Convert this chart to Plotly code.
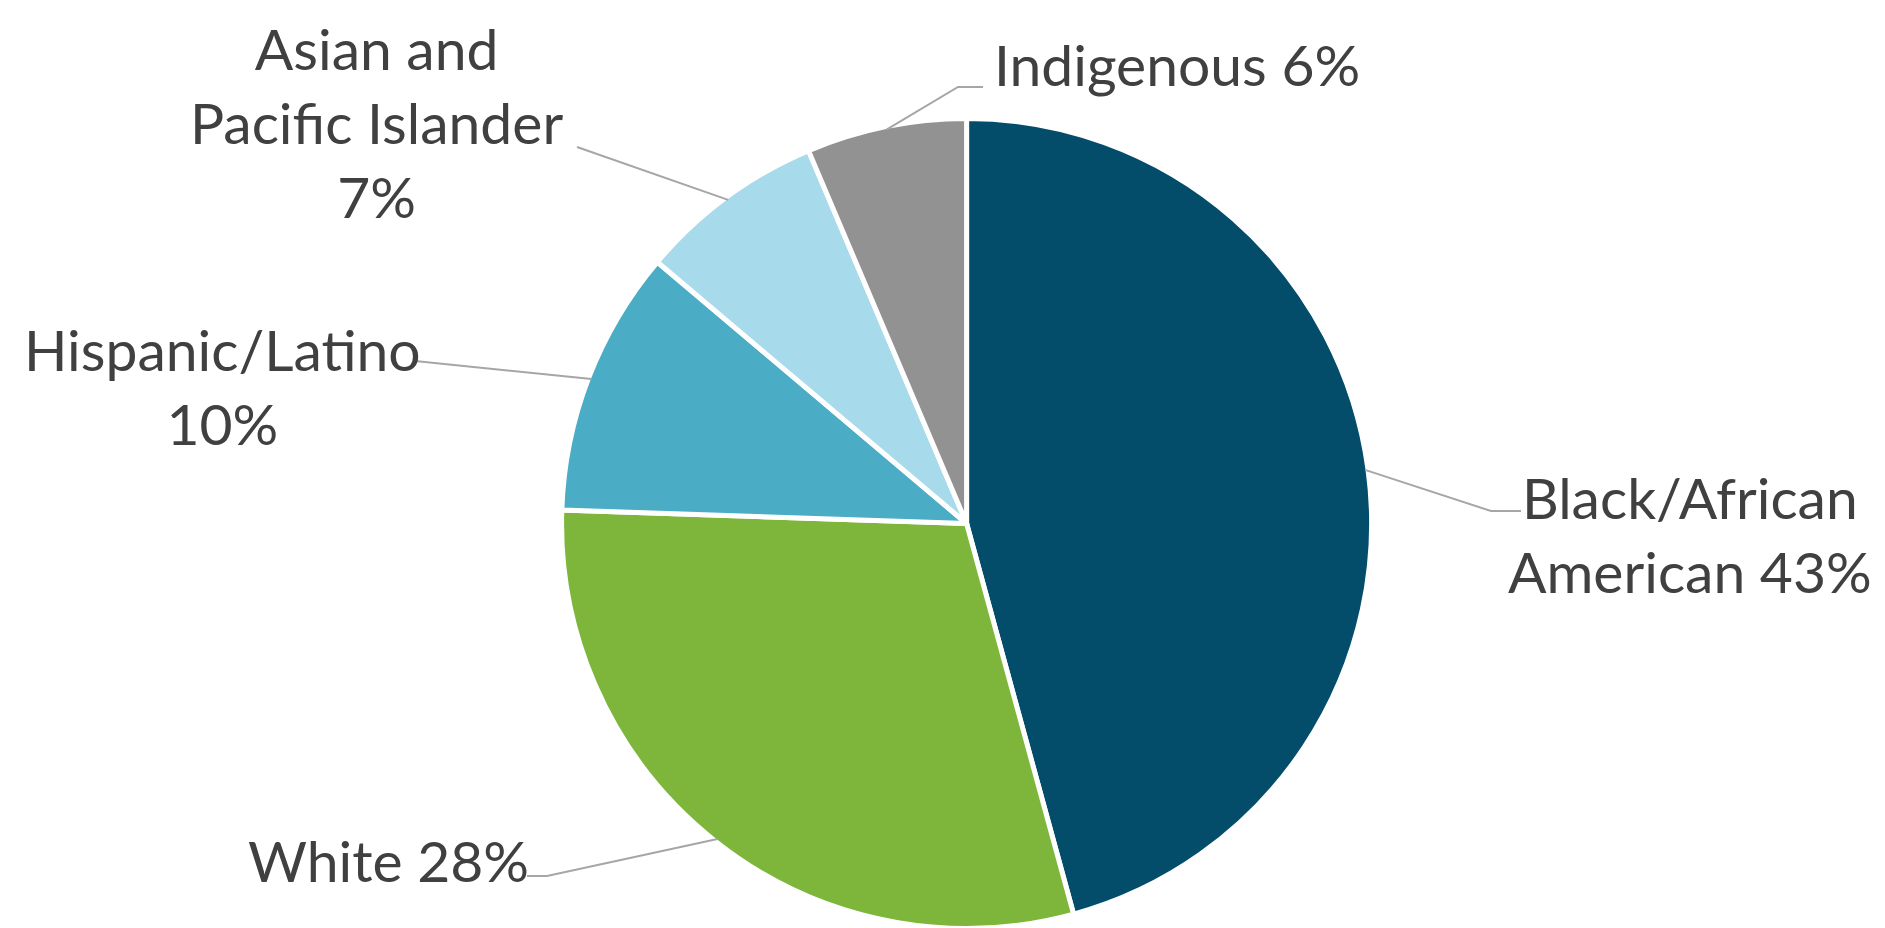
import math
import plotly.graph_objects as go

# ---- data ----
categories = ["Black/African American", "White", "Hispanic/Latino",
              "Asian and Pacific Islander", "Indigenous"]
values = [43, 28, 10, 7, 6]
label_texts = ["Black/African<br>American 43%", "White 28%", "Hispanic/Latino<br>10%",
               "Asian and<br>Pacific Islander<br>7%", "Indigenous 6%"]
colors = ["#034C6A", "#7DB63B", "#4BACC6", "#A7DAEA", "#929292"]

W, H = 1885, 928
OFF = 8  # page body margin
CX, CY, R = 966.6, 523.5, 405  # pie centre / radius in window pixels


def px(x):
    return (x - OFF) / W


def py(y):
    return 1 - (y - OFF) / H


fig = go.Figure(go.Pie(
    labels=categories, values=values, sort=False, direction="clockwise",
    rotation=0, textinfo="none", hoverinfo="skip",
    marker=dict(colors=colors, line=dict(color="white", width=5)),
    domain=dict(x=[px(CX - R), px(CX + R)], y=[py(CY + R), py(CY - R)]),
))

# label anchor positions (window pixels) and leader elbows
label_pos = [
    dict(x=1690, y=534, xanchor="center", elbow=[(1491, 511), (1521, 511)]),
    dict(x=246, y=860, xanchor="left", elbow=[(547, 876), (527, 876)]),
    dict(x=222, y=386, xanchor="center", elbow=[(415, 361)]),
    dict(x=376, y=122, xanchor="center", elbow=[(577, 147)]),
    dict(x=992, y=64, xanchor="left", elbow=[(958, 87), (983, 87)]),
]

total = sum(values)
cum = 0
shapes = []
annotations = []
for v, txt, lp in zip(values, label_texts, label_pos):
    mid = (cum + v / 2) / total * 2 * math.pi
    cum += v
    ex = CX + (R - 3) * math.sin(mid)
    ey = CY - (R - 3) * math.cos(mid)
    pts = [(ex, ey)] + lp["elbow"]
    path = "M " + " L ".join(f"{px(a):.5f},{py(b):.5f}" for a, b in pts)
    shapes.append(dict(type="path", xref="paper", yref="paper", path=path,
                       line=dict(color="#A6A6A6", width=2)))
    annotations.append(dict(x=px(lp["x"]), y=py(lp["y"]), xref="paper", yref="paper",
                            text=txt, showarrow=False, xanchor=lp["xanchor"],
                            yanchor="middle", align="center",
                            font=dict(family="Lato", size=57, color="#404040")))

fig.update_layout(
    width=W, height=H, margin=dict(l=0, r=0, t=0, b=0),
    paper_bgcolor="white", plot_bgcolor="white", showlegend=False,
    shapes=shapes, annotations=annotations,
)

fig.write_html("out.html")
